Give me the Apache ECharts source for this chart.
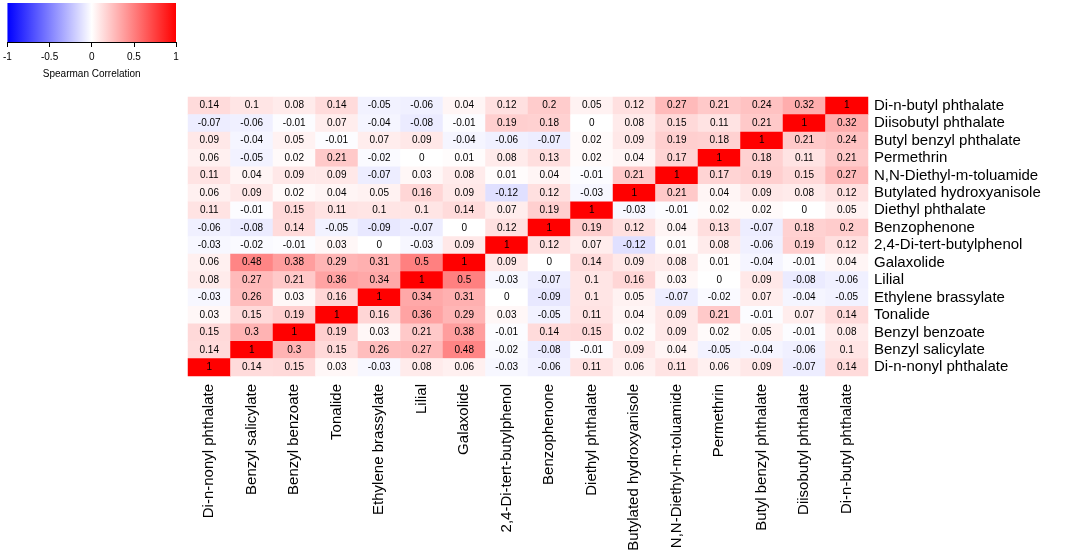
<!DOCTYPE html>
<html lang="en">
<head>
    <meta charset="UTF-8" />
    <title>Spearman correlation heatmap</title>
    <script src="https://cdn.jsdelivr.net/npm/echarts@6/dist/echarts.min.js"></script>
    <style>
        html, body { margin: 0; padding: 0; background: #fff; }
        #main { width: 1074px; height: 555px; }
    </style>
</head>
<body>
<div id="main"></div>
<script type="text/javascript">

    // compounds, left-to-right on x and bottom-to-top on y
    var compounds = [
        'Di-n-nonyl phthalate', 'Benzyl salicylate', 'Benzyl benzoate', 'Tonalide',
        'Ethylene brassylate', 'Lilial', 'Galaxolide', '2,4-Di-tert-butylphenol',
        'Benzophenone', 'Diethyl phthalate', 'Butylated hydroxyanisole', 'N,N-Diethyl-m-toluamide',
        'Permethrin', 'Butyl benzyl phthalate', 'Diisobutyl phthalate', 'Di-n-butyl phthalate'
    ]

    // rows as printed, top (Di-n-butyl phthalate) to bottom (Di-n-nonyl phthalate)
    var corrRows = [
        [0.14, 0.1, 0.08, 0.14, -0.05, -0.06, 0.04, 0.12, 0.2, 0.05, 0.12, 0.27, 0.21, 0.24, 0.32, 1],
        [-0.07, -0.06, -0.01, 0.07, -0.04, -0.08, -0.01, 0.19, 0.18, 0, 0.08, 0.15, 0.11, 0.21, 1, 0.32],
        [0.09, -0.04, 0.05, -0.01, 0.07, 0.09, -0.04, -0.06, -0.07, 0.02, 0.09, 0.19, 0.18, 1, 0.21, 0.24],
        [0.06, -0.05, 0.02, 0.21, -0.02, 0, 0.01, 0.08, 0.13, 0.02, 0.04, 0.17, 1, 0.18, 0.11, 0.21],
        [0.11, 0.04, 0.09, 0.09, -0.07, 0.03, 0.08, 0.01, 0.04, -0.01, 0.21, 1, 0.17, 0.19, 0.15, 0.27],
        [0.06, 0.09, 0.02, 0.04, 0.05, 0.16, 0.09, -0.12, 0.12, -0.03, 1, 0.21, 0.04, 0.09, 0.08, 0.12],
        [0.11, -0.01, 0.15, 0.11, 0.1, 0.1, 0.14, 0.07, 0.19, 1, -0.03, -0.01, 0.02, 0.02, 0, 0.05],
        [-0.06, -0.08, 0.14, -0.05, -0.09, -0.07, 0, 0.12, 1, 0.19, 0.12, 0.04, 0.13, -0.07, 0.18, 0.2],
        [-0.03, -0.02, -0.01, 0.03, 0, -0.03, 0.09, 1, 0.12, 0.07, -0.12, 0.01, 0.08, -0.06, 0.19, 0.12],
        [0.06, 0.48, 0.38, 0.29, 0.31, 0.5, 1, 0.09, 0, 0.14, 0.09, 0.08, 0.01, -0.04, -0.01, 0.04],
        [0.08, 0.27, 0.21, 0.36, 0.34, 1, 0.5, -0.03, -0.07, 0.1, 0.16, 0.03, 0, 0.09, -0.08, -0.06],
        [-0.03, 0.26, 0.03, 0.16, 1, 0.34, 0.31, 0, -0.09, 0.1, 0.05, -0.07, -0.02, 0.07, -0.04, -0.05],
        [0.03, 0.15, 0.19, 1, 0.16, 0.36, 0.29, 0.03, -0.05, 0.11, 0.04, 0.09, 0.21, -0.01, 0.07, 0.14],
        [0.15, 0.3, 1, 0.19, 0.03, 0.21, 0.38, -0.01, 0.14, 0.15, 0.02, 0.09, 0.02, 0.05, -0.01, 0.08],
        [0.14, 1, 0.3, 0.15, 0.26, 0.27, 0.48, -0.02, -0.08, -0.01, 0.09, 0.04, -0.05, -0.04, -0.06, 0.1],
        [1, 0.14, 0.15, 0.03, -0.03, 0.08, 0.06, -0.03, -0.06, 0.11, 0.06, 0.11, 0.06, 0.09, -0.07, 0.14]
    ]

    // colour key
    var scaleRange = [-1, 1]
    var scaleColors = ['#0000ff', '#ffffff', '#ff0000']
    var scaleTitle = 'Spearman Correlation'

    var font = 'Arial, "Liberation Sans", sans-serif'

    var cells = []
    corrRows.forEach(function (row, r) {
        var y = compounds.length - 1 - r
        row.forEach(function (v, x) {
            cells.push([x, y, v])
        })
    })

    var chart = echarts.init(document.getElementById('main'))
    chart.setOption({
        animation: false,
        textStyle: { fontFamily: font },
        grid: [
            { left: 188, top: 97, width: 680, height: 279 },
            { left: 6, top: 3, width: 170, height: 39 }
        ],
        xAxis: [{
            type: 'category',
            gridIndex: 0,
            data: compounds,
            axisLine: { show: false },
            axisTick: { show: false },
            splitLine: { show: false },
            axisLabel: {
                rotate: 90,
                interval: 0,
                margin: 8,
                fontSize: 15,
                color: '#000',
                fontFamily: font
            }
        }, {
            type: 'value',
            gridIndex: 1,
            min: scaleRange[0],
            max: scaleRange[1],
            interval: 0.5,
            splitLine: { show: false },
            axisLine: { show: true, lineStyle: { color: '#000', width: 1 } },
            axisTick: { show: true, length: 5, lineStyle: { color: '#000' } },
            axisLabel: { fontSize: 10, color: '#000', margin: 10, fontFamily: font },
            name: scaleTitle,
            nameLocation: 'middle',
            nameGap: 27,
            nameTextStyle: { fontSize: 10, color: '#000', fontFamily: font }
        }],
        yAxis: [{
            type: 'category',
            gridIndex: 0,
            data: compounds,
            position: 'right',
            axisLine: { show: false },
            axisTick: { show: false },
            splitLine: { show: false },
            axisLabel: {
                interval: 0,
                margin: 6,
                fontSize: 15,
                color: '#000',
                fontFamily: font
            }
        }, {
            type: 'value',
            gridIndex: 1,
            min: 0,
            max: 1,
            show: false
        }],
        visualMap: {
            show: false,
            type: 'continuous',
            seriesIndex: 0,
            min: scaleRange[0],
            max: scaleRange[1],
            inRange: { color: scaleColors }
        },
        series: [{
            type: 'heatmap',
            xAxisIndex: 0,
            yAxisIndex: 0,
            data: cells,
            itemStyle: { borderWidth: 0 },
            label: {
                show: true,
                fontSize: 10,
                color: '#000',
                fontFamily: font,
                formatter: function (p) { return String(p.value[2]) }
            },
            emphasis: { disabled: true }
        }, {
            type: 'custom',
            xAxisIndex: 1,
            yAxisIndex: 1,
            data: [[scaleRange[0], scaleRange[1]]],
            encode: { x: [0, 1] },
            silent: true,
            renderItem: function (params, api) {
                var p0 = api.coord([api.value(0), 1])
                var p1 = api.coord([api.value(1), 0])
                var stops = scaleColors.map(function (c, i) {
                    return { offset: i / (scaleColors.length - 1), color: c }
                })
                return {
                    type: 'rect',
                    shape: { x: p0[0], y: p0[1], width: p1[0] - p0[0], height: p1[1] - p0[1] },
                    style: { fill: new echarts.graphic.LinearGradient(0, 0, 1, 0, stops) }
                }
            }
        }]
    })
</script>
</body>
</html>
